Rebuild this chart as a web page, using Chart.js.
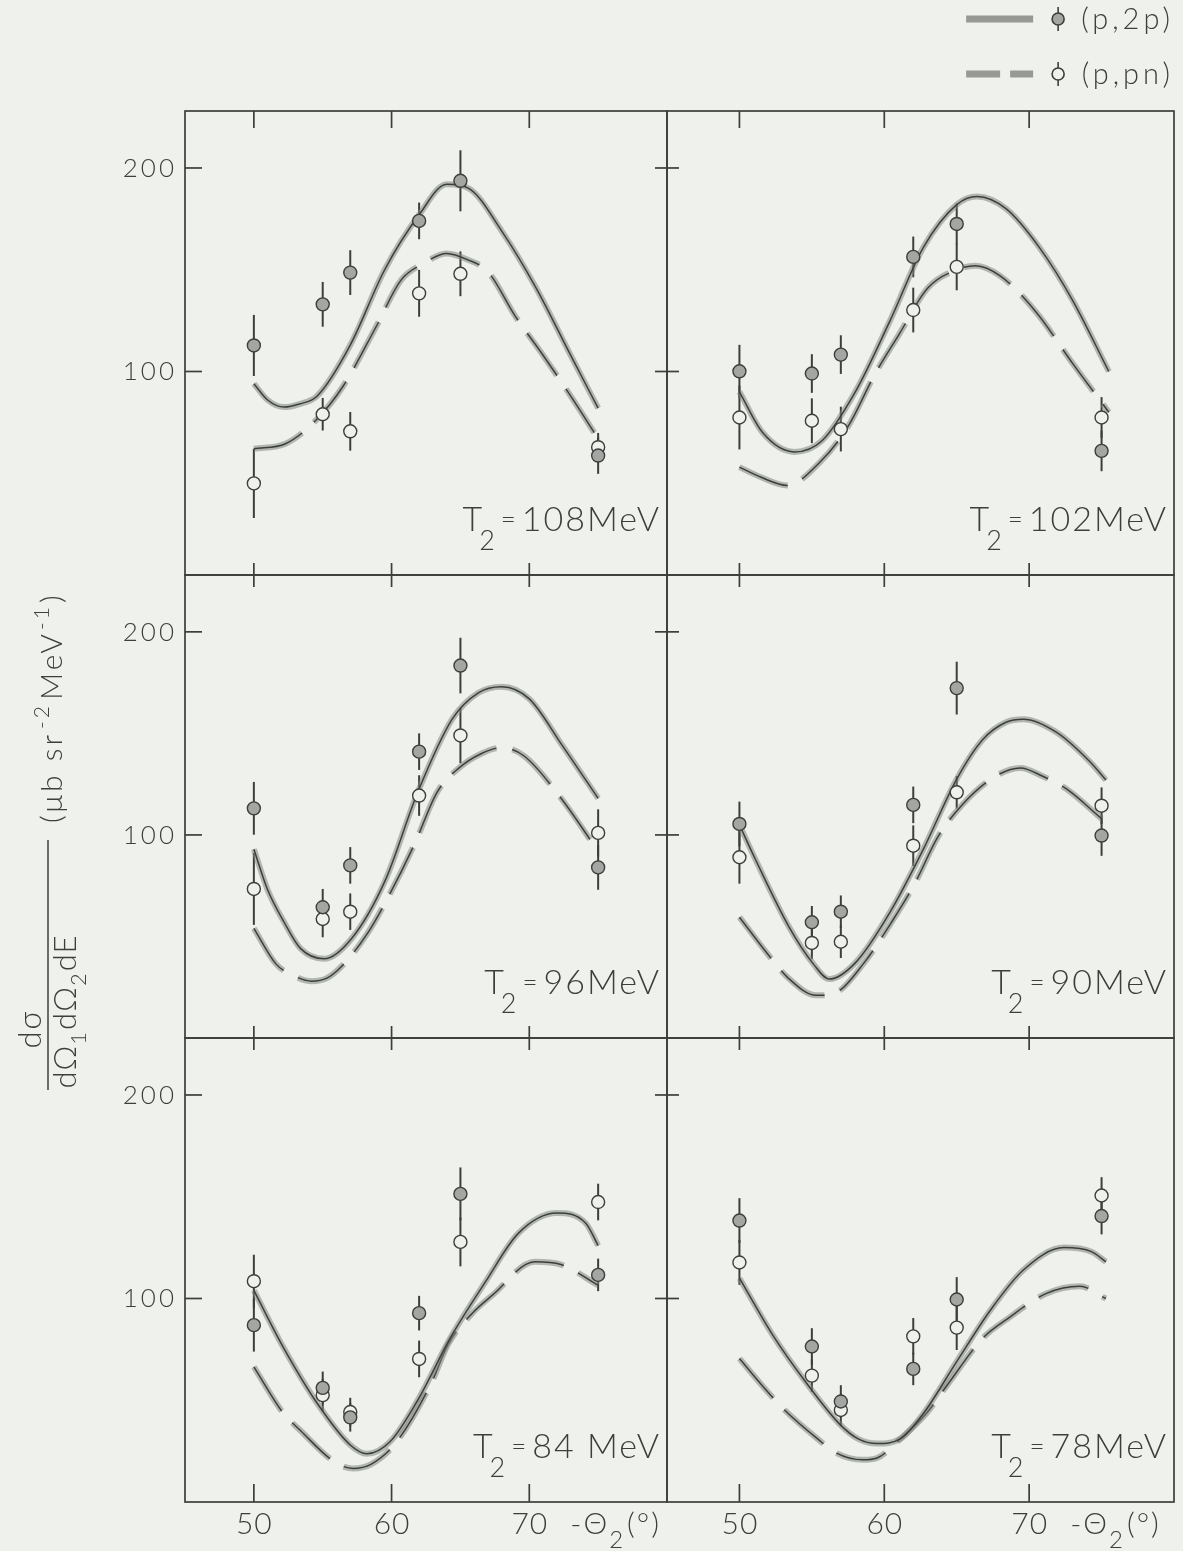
<!DOCTYPE html>
<html>
<head>
<meta charset="utf-8">
<script src="https://cdn.jsdelivr.net/npm/chart.js@4.4.1/dist/chart.umd.min.js"></script>
<style>
  html, body { margin: 0; padding: 0; background: #eef1ec; }
  #page { position: relative; width: 1183px; height: 1551px; overflow: hidden; }
  #page canvas { position: absolute; left: 0; top: 0; }
</style>
</head>
<body>
<div id="page"></div>
<script>
// measured angles (-theta2, deg) and tick values
const angles = [50, 55, 57, 62, 65, 75];
const xTicks = [50, 60, 70];
const yTicks = [100, 200];
const energyLabels = ['108MeV', '102MeV', '96MeV', '90MeV', '84 MeV', '78MeV'];

// T2 = 108 MeV
const p2p108 = [112.8, 133, 148.6, 174, 193.7, 58.7];
const p2pErr108 = [12, 8, 8, 6, 12, 6];
const pn108 = [45, 79, 70.6, 138.4, 148, 62.8];
const pnErr108 = [14, 5, 6.5, 8.5, 8, 4];
const fit2pX108 = [50, 51, 52.2, 53.3, 54.6, 57, 59.5, 62, 64, 65.6, 68, 70.5, 73, 75];
const fit2pY108 = [94, 86, 82.5, 84, 88, 113, 150, 177, 192, 190, 169, 141, 108, 82];
const fitPnX108 = [50, 52.3, 54.5, 56.5, 58.8, 60.7, 62.3, 64, 65.5, 67, 69, 71, 73, 75];
const fitPnY108 = [62, 64.5, 76, 93, 121, 145, 153, 158, 155, 149, 127, 108, 88, 67];

// T2 = 102 MeV
const p2p102 = [100.1, 99, 108.3, 156.3, 172.5, 61];
const p2pErr102 = [10, 6.5, 6.5, 7, 7, 7];
const pn102 = [77.4, 75.8, 71.7, 130.2, 151.4, 77.4];
const pnErr102 = [12.7, 8, 8, 8, 8.5, 7];
const fit2pX102 = [50, 51.6, 53.8, 55.7, 58, 60.4, 62.7, 65, 66.4, 68.4, 70.7, 73, 75.5];
const fit2pY102 = [90, 70, 60.5, 66, 90, 125, 161, 182, 186, 180, 161, 135, 100];
const fitPnX102 = [50, 51.5, 53.3, 55.5, 57.5, 59.3, 61, 63, 65, 66.3, 68, 70.5, 73, 75.5];
const fitPnY102 = [53, 48, 44, 55, 73, 98, 118, 141, 150, 152, 147, 129, 104, 80];

// T2 = 96 MeV
const p2p96 = [113.1, 64.4, 85, 141, 183.4, 84];
const p2pErr96 = [10, 6, 6, 6, 10.7, 8];
const pn96 = [73.4, 58.6, 62.2, 119.4, 149, 101];
const pnErr96 = [14.7, 6, 6, 7, 10.7, 8.6];
const fit2pX96 = [50, 51, 52.2, 53.4, 55.1, 57.1, 59.5, 61.9, 64.4, 66.3, 68, 70, 72.4, 75];
const fit2pY96 = [93, 73, 57, 44, 39, 49, 77, 121, 157, 170, 173, 167, 144, 118];
const fitPnX96 = [50, 51.6, 52.8, 54.2, 55.3, 56.4, 58.2, 59.8, 61.7, 63.3, 64.9, 66.5, 68, 69.6, 72.2, 75];
const fitPnY96 = [54, 36.5, 31, 28, 29.5, 35.5, 51, 70, 96, 121, 133, 140, 143, 139, 119, 92];

// T2 = 90 MeV
const p2p90 = [105.4, 57, 62.2, 114.8, 172.3, 99.7];
const p2pErr90 = [8, 5, 5, 6, 10, 7];
const pn90 = [89, 46.8, 47.4, 94.7, 121, 114.4];
const pnErr90 = [10, 5, 5, 7, 5, 6];
const fit2pX90 = [50, 51.1, 53.4, 55.1, 56.2, 58, 60.4, 62.7, 65, 66.8, 68.4, 69.6, 71.9, 74.2, 75.3];
const fit2pY90 = [105, 88, 55, 36.5, 29, 37, 62, 93, 127.5, 147, 155.5, 157, 150.5, 136, 127];
const fitPnX90 = [50, 52.1, 53.3, 55.3, 56.7, 58.6, 60.5, 62.1, 63.7, 65.4, 67.7, 69.4, 70.9, 72.6, 75];
const fitPnY90 = [59.5, 40, 30, 21, 22.5, 37, 57, 76, 99, 115, 129, 133, 129, 122.5, 108];

// T2 = 84 MeV
const p2p84 = [86.9, 56.1, 41.6, 92.8, 151.4, 111.6];
const p2pErr84 = [10, 5, 4, 5.5, 10, 5];
const pn84 = [108.5, 52.5, 44.2, 70.3, 127.8, 147.4];
const pnErr84 = [10, 5, 4, 6, 9, 6];
const fit2pX84 = [50, 52.1, 54.6, 57, 58.2, 59.9, 61.9, 64.3, 66.8, 69.2, 72, 74.1, 75];
const fit2pY84 = [104, 76.5, 48.5, 28, 23.7, 29.7, 50, 81, 108, 132, 142, 137, 126];
const fitPnX84 = [50, 52.1, 53.4, 55.9, 57.2, 58.5, 60.3, 62.9, 64.1, 65.9, 67.3, 70.4, 72.3, 75];
const fitPnY84 = [66.4, 44, 35, 19.5, 16.5, 18.5, 29, 58.7, 77.5, 93, 101.5, 118, 116.7, 106.5];

// T2 = 78 MeV
const p2p78 = [138.3, 76.4, 49.4, 65.4, 99.5, 140.5];
const p2pErr78 = [8, 6, 5, 5, 8, 6];
const pn78 = [117.7, 62.1, 45.2, 81.4, 85.7, 150.6];
const pnErr78 = [8, 5, 5, 6, 8, 6];
const fit2pX78 = [50, 52.3, 54.6, 56.9, 58.2, 59.5, 61.1, 62.7, 65, 67.3, 69.6, 72.4, 74.3, 75.3];
const fit2pY78 = [110, 82, 58.7, 38.4, 31, 28.7, 31, 43.5, 69, 94, 114, 125, 123, 118];
const fitPnX78 = [50, 51.9, 53, 55.4, 56.7, 58.5, 59.5, 61.1, 62.9, 64.4, 66.8, 68.5, 71.2, 73.5, 75.3];
const fitPnY78 = [70.5, 54.5, 46, 31, 24, 20.7, 21.6, 31, 43.5, 58, 80.5, 90, 102.5, 106, 100];

const panels = [
  { p2p: p2p108, p2pErr: p2pErr108, pn: pn108, pnErr: pnErr108, sx: fit2pX108, sy: fit2pY108, dx: fitPnX108, dy: fitPnY108 },
  { p2p: p2p102, p2pErr: p2pErr102, pn: pn102, pnErr: pnErr102, sx: fit2pX102, sy: fit2pY102, dx: fitPnX102, dy: fitPnY102 },
  { p2p: p2p96, p2pErr: p2pErr96, pn: pn96, pnErr: pnErr96, sx: fit2pX96, sy: fit2pY96, dx: fitPnX96, dy: fitPnY96 },
  { p2p: p2p90, p2pErr: p2pErr90, pn: pn90, pnErr: pnErr90, sx: fit2pX90, sy: fit2pY90, dx: fitPnX90, dy: fitPnY90 },
  { p2p: p2p84, p2pErr: p2pErr84, pn: pn84, pnErr: pnErr84, sx: fit2pX84, sy: fit2pY84, dx: fitPnX84, dy: fitPnY84 },
  { p2p: p2p78, p2pErr: p2pErr78, pn: pn78, pnErr: pnErr78, sx: fit2pX78, sy: fit2pY78, dx: fitPnX78, dy: fitPnY78 }
];

// page geometry
const W = 1183, H = 1551;
const colEdges = [[185, 667], [667, 1174]];
const rowEdges = [[111, 575], [575, 1038], [1038, 1502]];
const FONT = 'Lato, "Open Sans", "DejaVu Sans", sans-serif';
const INK = '#3d3f3c';
const BAND = 'rgba(130, 133, 129, 0.55)';
const DASH = [52, 16];

function line(ctx, x1, y1, x2, y2) {
    ctx.beginPath();
    ctx.moveTo(x1, y1);
    ctx.lineTo(x2, y2);
    ctx.stroke();
}

// draws a row of [text, size, dy, extraGap] pieces with letter spacing, returns width
function runs(ctx, parts, x, y, align, spacing) {
    const sp = spacing || 0;
    ctx.letterSpacing = sp + 'px';
    let w = 0;
    parts.forEach(p => {
        ctx.font = `300 ${p[1]}px ${FONT}`;
        w += ctx.measureText(p[0]).width + (p[3] || 0);
    });
    w -= sp;
    let cx = align === 'right' ? x - w : align === 'center' ? x - w / 2 : x;
    ctx.textAlign = 'left';
    parts.forEach(p => {
        ctx.font = `300 ${p[1]}px ${FONT}`;
        ctx.fillText(p[0], cx, y + p[2]);
        cx += ctx.measureText(p[0]).width + (p[3] || 0);
    });
    ctx.letterSpacing = '0px';
    return w;
}

const panelDeco = {
    id: 'panelDeco',
    beforeDatasetsDraw(chart, args, opts) {
        const { ctx, chartArea: a, scales: { x, y } } = chart;
        ctx.save();
        ctx.strokeStyle = INK;
        ctx.lineWidth = 1.7;
        ctx.strokeRect(a.left, a.top, a.right - a.left, a.bottom - a.top);

        xTicks.forEach(v => {
            const px = x.getPixelForValue(v);
            if (opts.row === 0) line(ctx, px, a.top, px, a.top + 17);
            else line(ctx, px, a.top - 12, px, a.top + 12);
            if (opts.row === 2) line(ctx, px, a.bottom - 18, px, a.bottom);
        });
        yTicks.forEach(v => {
            const py = y.getPixelForValue(v);
            if (opts.col === 0) line(ctx, a.left, py, a.left + 17, py);
            else line(ctx, a.left - 12, py, a.left + 12, py);
        });

        // error bars, under the circles
        ctx.lineWidth = 2;
        chart.data.datasets.forEach(ds => {
            if (!ds.errors) return;
            ds.data.forEach((p, j) => {
                const e = ds.errors[j];
                const px = x.getPixelForValue(p.x);
                line(ctx, px, y.getPixelForValue(p.y - e - 3), px, y.getPixelForValue(p.y + e + 3));
            });
        });
        ctx.restore();
    },
    afterDraw(chart, args, opts) {
        const { ctx, chartArea: a, scales: { x, y } } = chart;
        ctx.save();
        ctx.fillStyle = INK;
        ctx.textBaseline = 'alphabetic';

        // T2 = ... MeV
        runs(ctx, [['T', 34, 0, -5], ['2', 27, 19, 4], ['=', 26, -3, 4], [energyLabels[opts.index], 34, 0]],
            a.right - 8, a.bottom - 44, 'right', 2);

        if (opts.col === 0) {
            yTicks.forEach(v => {
                runs(ctx, [[String(v), 26, 0]], a.left - 11, y.getPixelForValue(v) + 9, 'right', 3);
            });
        }
        if (opts.row === 2) {
            xTicks.forEach(v => {
                runs(ctx, [[String(v), 30, 0]], x.getPixelForValue(v), a.bottom + 32, 'center', 1);
            });
            runs(ctx, [['-Θ', 30, 0, 0], ['2', 24, 14, 2], ['(°)', 30, 0]],
                x.getPixelForValue(70) + 41, a.bottom + 32, 'left', 2);
        }
        ctx.restore();
    }
};

// legend and y title, drawn once on the first canvas
const pageDeco = {
    id: 'pageDeco',
    afterDraw(chart) {
        const ctx = chart.ctx;
        ctx.save();
        ctx.fillStyle = INK;
        ctx.strokeStyle = INK;

        // legend, anchored on its right end
        const rowsY = [19, 74];
        const w1 = runs(ctx, [['(p,2p)', 29, 0]], 1170, rowsY[0] + 10, 'right', 4);
        runs(ctx, [['(p,pn)', 29, 0]], 1170, rowsY[1] + 10, 'right', 4);
        const mx = 1170 - w1 - 23;
        const bandR = mx - 25, bandL = bandR - 67;

        ctx.lineCap = 'butt';
        ctx.lineWidth = 7;
        ctx.strokeStyle = 'rgba(120, 123, 119, 0.75)';
        line(ctx, bandL, rowsY[0], bandR, rowsY[0]);
        line(ctx, bandL, rowsY[1], bandL + 34, rowsY[1]);
        line(ctx, bandL + 44, rowsY[1], bandR, rowsY[1]);
        ctx.strokeStyle = INK;
        ctx.lineWidth = 1.6;
        rowsY.forEach((ry, i) => {
            line(ctx, mx, ry - 12, mx, ry + 12);
            ctx.beginPath();
            ctx.arc(mx, ry, 6, 0, Math.PI * 2);
            ctx.fillStyle = i === 0 ? '#a3a6a2' : '#eef1ec';
            ctx.fill();
            ctx.stroke();
        });

        // rotated y title
        ctx.fillStyle = INK;
        ctx.translate(48, 0);
        ctx.rotate(-Math.PI / 2);
        ctx.lineWidth = 1.5;
        line(ctx, -1090, 0, -840, 0);
        runs(ctx, [['dσ', 31, 0]], -1030, -7, 'center', 2);
        runs(ctx, [['dΩ', 31, 0], ['1', 22, 10, 1], ['dΩ', 31, 0], ['2', 22, 10, 1], ['dE', 31, 0]], -1012, 28, 'center', 1);
        runs(ctx, [['(μb sr', 30, 0, 3], ['-2', 21, -13, 3], ['MeV', 30, 0, 1], ['-1', 21, -13, 1], [')', 30, 0]], -823, 14, 'left', 3);
        ctx.restore();
    }
};

const page = document.getElementById('page');

panels.forEach((pd, i) => {
    const row = Math.floor(i / 2), col = i % 2;
    const canvas = document.createElement('canvas');
    canvas.width = W;
    canvas.height = H;
    page.appendChild(canvas);

    const pts = vals => angles.map((a, j) => ({ x: a, y: vals[j] }));
    const curve = (xs, ys) => xs.map((v, j) => ({ x: v, y: ys[j] }));
    const fitLine = (data, width, color, dash) => ({
        type: 'line',
        data: data,
        borderColor: color,
        borderWidth: width,
        borderDash: dash,
        pointRadius: 0,
        fill: false,
        cubicInterpolationMode: 'monotone'
    });

    new Chart(canvas, {
        type: 'scatter',
        data: {
            datasets: [
                {
                    data: pts(pd.p2p), errors: pd.p2pErr,
                    pointRadius: 6.5, backgroundColor: '#a3a6a2', borderColor: INK, borderWidth: 1.4
                },
                {
                    data: pts(pd.pn), errors: pd.pnErr,
                    pointRadius: 6.5, backgroundColor: '#eef1ec', borderColor: INK, borderWidth: 1.4
                },
                fitLine(curve(pd.sx, pd.sy), 1.5, INK, []),
                fitLine(curve(pd.sx, pd.sy), 6, BAND, []),
                fitLine(curve(pd.dx, pd.dy), 1.5, INK, DASH),
                fitLine(curve(pd.dx, pd.dy), 6, BAND, DASH)
            ]
        },
        options: {
            responsive: false,
            animation: false,
            layout: {
                padding: { left: colEdges[col][0], right: W - colEdges[col][1], top: rowEdges[row][0], bottom: H - rowEdges[row][1] }
            },
            scales: {
                x: { type: 'linear', min: 45, max: 80, display: false },
                y: { type: 'linear', min: 0, max: 228, display: false }
            },
            plugins: {
                legend: { display: false },
                tooltip: { enabled: false },
                panelDeco: { row: row, col: col, index: i }
            }
        },
        plugins: i === 0 ? [panelDeco, pageDeco] : [panelDeco]
    });
});
</script>
</body>
</html>
